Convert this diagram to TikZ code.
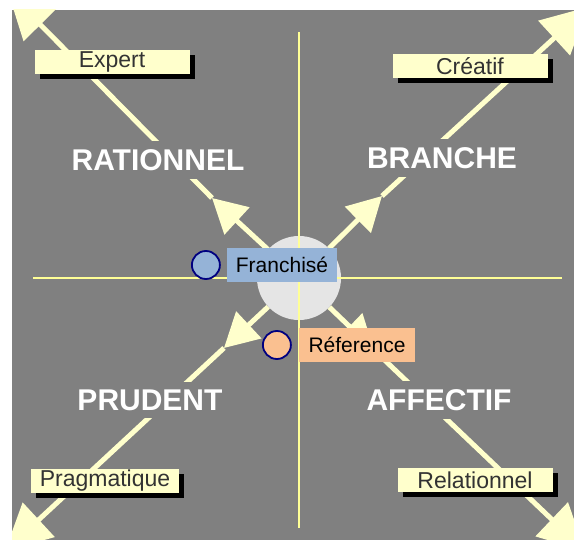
\documentclass[tikz,border=0pt]{standalone}
\usepackage{fontspec}
\setmainfont{Liberation Sans}
\usetikzlibrary{arrows.meta,positioning,shadows}
\definecolor{fond}{RGB}{128,128,128}
\definecolor{creme}{RGB}{255,255,204}
\definecolor{jaune}{RGB}{255,255,150}
\definecolor{bleupro}{RGB}{149,179,215}
\definecolor{orangepro}{RGB}{250,192,144}
\definecolor{marine}{RGB}{0,0,128}
\tikzset{%
	axe/.style       = {line width=5pt, draw=creme, -{Triangle[length=34pt,width=36pt]}},
	axeout/.style    = {line width=5pt, draw=creme, -{Triangle[length=46pt,width=46pt]}},
	pole/.style      = {fill=fond, text=white, font=\fontsize{30}{34}\selectfont\bfseries, inner sep=8pt},
	etiquette/.style = {fill=creme, text=black!80, minimum width=155pt, minimum height=24pt, inner sep=0pt, font=\fontsize{23}{26}\selectfont, drop shadow={shadow xshift=5pt, shadow yshift=-5pt, fill=black, opacity=1}},
	profil/.style    = {minimum height=34pt, inner sep=0pt, text=black, font=\fontsize{21}{24}\selectfont},
	point/.style     = {circle, draw=marine, line width=1.8pt, minimum size=28pt, inner sep=0pt},
}

\begin{document}
\begin{tikzpicture}[x=1pt,y=-1pt]
	\useasboundingbox (0,0) rectangle (574,540);
	\fill[white] (0,0) rectangle (574,540);
	\fill[fond] (12,10) rectangle (574,540);
	
	\node[circle, fill=black!10, minimum size=84pt, inner sep=0pt] (centre) at (299,278) {};
	\coordinate (tl) at (212,198);
	\coordinate (tr) at (382,196);
	\coordinate (bl) at (224,348);
	\coordinate (br) at (374,350);
	\coordinate (tlout) at (8,-8);
	\coordinate (trout) at (588,7);
	\coordinate (blout) at (5,551);
	\coordinate (brout) at (585,551);
	
	\begin{scope}
		\clip (12,10) rectangle (574,540);
		\foreach \d in {tl,tr,bl,br} {
			\draw[axe] (centre) -- (\d);
			\draw[axeout] (\d) -- (\d out);
		}
	\end{scope}
	
	\draw[jaune, line width=1.6pt] (299,32) -- (299,528);
	\draw[jaune, line width=1.6pt] (33,278) -- (562,278);
	
	\node[pole] (rationnel) at (158,160) {RATIONNEL};
	\node[pole] (branche) at (442,158) {BRANCHE};
	\node[pole] (prudent) at (150,400) {PRUDENT};
	\node[pole] (affectif) at (439,400) {AFFECTIF};
	
	\node[etiquette] (expert) at (112,62) {Expert};
	\node[etiquette] (creatif) at (470,66) {Créatif};
	\node[etiquette, minimum width=148pt] (pragmatique) at (105,481) {Pragmatique};
	\node[etiquette] (relationnel) at (475,480) {Relationnel};
	
	\node[profil, fill=bleupro, minimum width=110pt] (franchise) at (282,265) {Franchisé};
	\node[point, fill=bleupro, left=6pt of franchise] (pfranchise) {};
	\node[profil, fill=orangepro, minimum width=116pt] (reference) at (357,345) {Réference};
	\node[point, fill=orangepro, left=7pt of reference] (preference) {};
\end{tikzpicture}
\end{document}
